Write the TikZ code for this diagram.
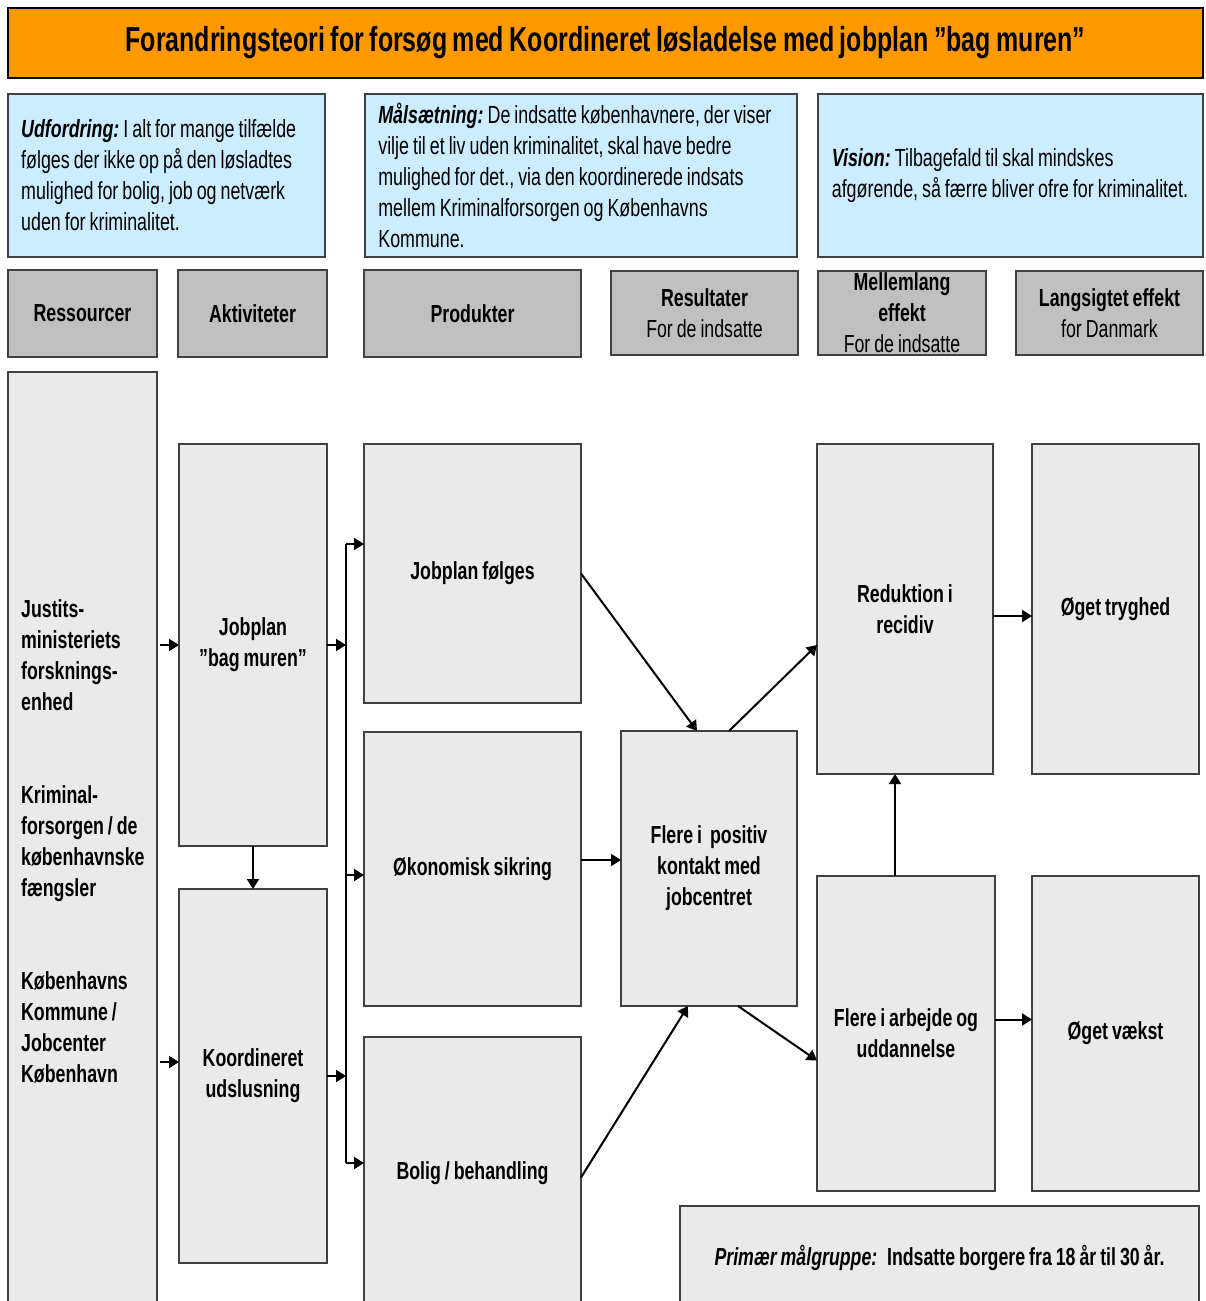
\documentclass[tikz,border=0pt]{standalone}
\usepackage{fontspec}
\setmainfont{Liberation Sans}[FakeStretch=0.72,WordSpace=0.8]
\usetikzlibrary{arrows.meta,calc}
\definecolor{orangeT}{HTML}{FF9900}
\definecolor{blueT}{HTML}{CCECFF}
\definecolor{headT}{HTML}{C0C0C0}
\definecolor{bodyT}{HTML}{EAEAEA}
\newcommand\bx[7][]{\node[box,#1,anchor=north west,minimum width={(#5-#3)*0.75pt},minimum height={(#6-#4)*0.75pt}] (#2) at (#3,#4) {#7};}
\tikzset{
  box/.style={draw=black!75, line width=1pt, outer sep=0pt, inner sep=0pt, fill=bodyT,
    font=\bfseries\fontsize{18.5}{23.25}\selectfont, align=center},
  tight/.style={execute at begin node={\spaceskip=0pt\relax\xspaceskip=0pt\relax}},
  head/.style={fill=headT},
  blue/.style={fill=blueT, font=\fontsize{18.6}{23.25}\selectfont, align=left, tight},
  arr/.style={line width=1.5pt, -{Triangle[length=7.5pt,width=9pt]}},
  ln/.style={line width=1.5pt}
}
\begin{document}
\begin{tikzpicture}[x=0.75pt,y=-0.75pt]
\clip (0,0) rectangle (1205,1301);
\fill[white] (0,0) rectangle (1205,1301);
% title
\bx[fill=orangeT,line width=1.6pt,draw=black,font=\bfseries\fontsize{26}{30}\selectfont]{title}{8}{8}{1203}{78}{Forandringsteori for forsøg med Koordineret løsladelse med jobplan ”bag muren”}
% blue boxes
\bx[blue,text width=218pt]{udf}{8}{94}{325}{257}{\textbf{\textit{Udfordring:}}\,I alt for mange tilfælde\\følges der ikke op på den løsladtes\\mulighed for bolig, job og netværk\\uden for kriminalitet.}
\bx[blue,text width=304pt]{mal}{365}{94}{797}{257}{\textbf{\textit{Målsætning:}}\,De indsatte københavnere, der viser\\vilje til et liv uden kriminalitet, skal have bedre\\mulighed for det., via den koordinerede indsats\\mellem Kriminalforsorgen og Københavns\\Kommune.}
\bx[blue,text width=268pt]{vis}{818}{94}{1203}{257}{\textbf{\textit{Vision:}}\,Tilbagefald til skal mindskes\\afgørende, så færre bliver ofre for kriminalitet.}
% headers
\bx[head]{h1}{8}{270}{157}{357}{Ressourcer}
\bx[head]{h2}{178}{270}{327}{357}{Aktiviteter}
\bx[head]{h3}{364}{270}{581}{357}{Produkter}
\bx[head]{h4}{611}{271}{798}{355}{Resultater\\\mdseries For de indsatte}
\bx[head]{h5}{818}{271}{986}{355}{Mellemlang\\effekt\\\mdseries For de indsatte}
\bx[head]{h6}{1016}{271}{1203}{355}{Langsigtet effekt\\\mdseries for Danmark}
% body
\bx[align=left,tight,text width=92pt]{res}{8}{372}{157}{1310}{\mbox{Justits-}\\\mbox{ministeriets}\\\mbox{forsknings-}\\\mbox{enhed}\\[46.5pt]\mbox{Kriminal-}\\\mbox{forsorgen / de}\\\mbox{københavnske}\\\mbox{fængsler}\\[46.5pt]\mbox{Københavns}\\\mbox{Kommune /}\\\mbox{Jobcenter}\\\mbox{København}}
\bx{jp}{179}{444}{327}{846}{Jobplan\\”bag muren”}
\bx{ko}{179}{889}{327}{1263}{Koordineret\\udslusning}
\bx{jf}{364}{444}{581}{703}{Jobplan følges}
\bx{ok}{364}{732}{581}{1006}{Økonomisk sikring}
\bx{bo}{364}{1037}{581}{1310}{Bolig / behandling}
\bx{fp}{621}{731}{797}{1006}{Flere i\, positiv\\kontakt med\\jobcentret}
\bx{rr}{817}{444}{993}{774}{Reduktion i\\recidiv}
\bx{fa}{817}{876}{995}{1191}{Flere i arbejde og\\uddannelse}
\bx{ot}{1032}{444}{1199}{774}{Øget tryghed}
\bx{ov}{1032}{876}{1199}{1191}{Øget vækst}
\bx{pm}{680}{1206}{1199}{1310}{\textit{Primær målgruppe:}\, Indsatte borgere fra 18 år til 30 år.}
% connectors
\coordinate (resE) at ($(res.east)+(3,0)$);
\coordinate (bus1) at (346,544);
\coordinate (bus2) at (346,1163);
\coordinate (y1062) at (0,1062);
\coordinate (y875) at (0,875);
\coordinate (y860) at (0,860);
\draw[arr] (resE |- jp.west) -- (jp.west);
\draw[arr] (resE |- y1062) -- (ko.west |- y1062);
\draw[arr] (jp.south) -- (ko.north);
\draw[arr] (jp.east) -- (jp.east -| bus1);
\draw[arr] (ko.east) -- (ko.east -| bus1);
\draw[ln] (bus1) -- (bus2);
\draw[arr] (bus1) -- (bus1 -| jf.west);
\draw[arr] (bus1 |- y875) -- (jf.west |- y875);
\draw[arr] (bus2) -- (bus2 -| bo.west);
\draw[arr] (jf.east) -- ($(fp.north)+(-12,0)$);
\draw[arr] (ok.east |- y860) -- (fp.west |- y860);
\draw[arr] ($(bo.east)+(0,4)$) -- ($(fp.south)+(-21,0)$);
\draw[arr] ($(fp.north)+(20,0)$) -- ($(rr.west)+(0,36)$);
\draw[arr] ($(fp.south)+(29,0)$) -- ($(fa.west)+(0,27)$);
\draw[arr] ($(fa.north)+(-11,0)$) -- ($(rr.south)+(-10,0)$);
\draw[arr] ($(rr.east)+(0,7)$) -- ($(ot.west)+(0,7)$);
\draw[arr] ($(fa.east)+(0,-14)$) -- ($(ov.west)+(0,-14)$);
\end{tikzpicture}
\end{document}
